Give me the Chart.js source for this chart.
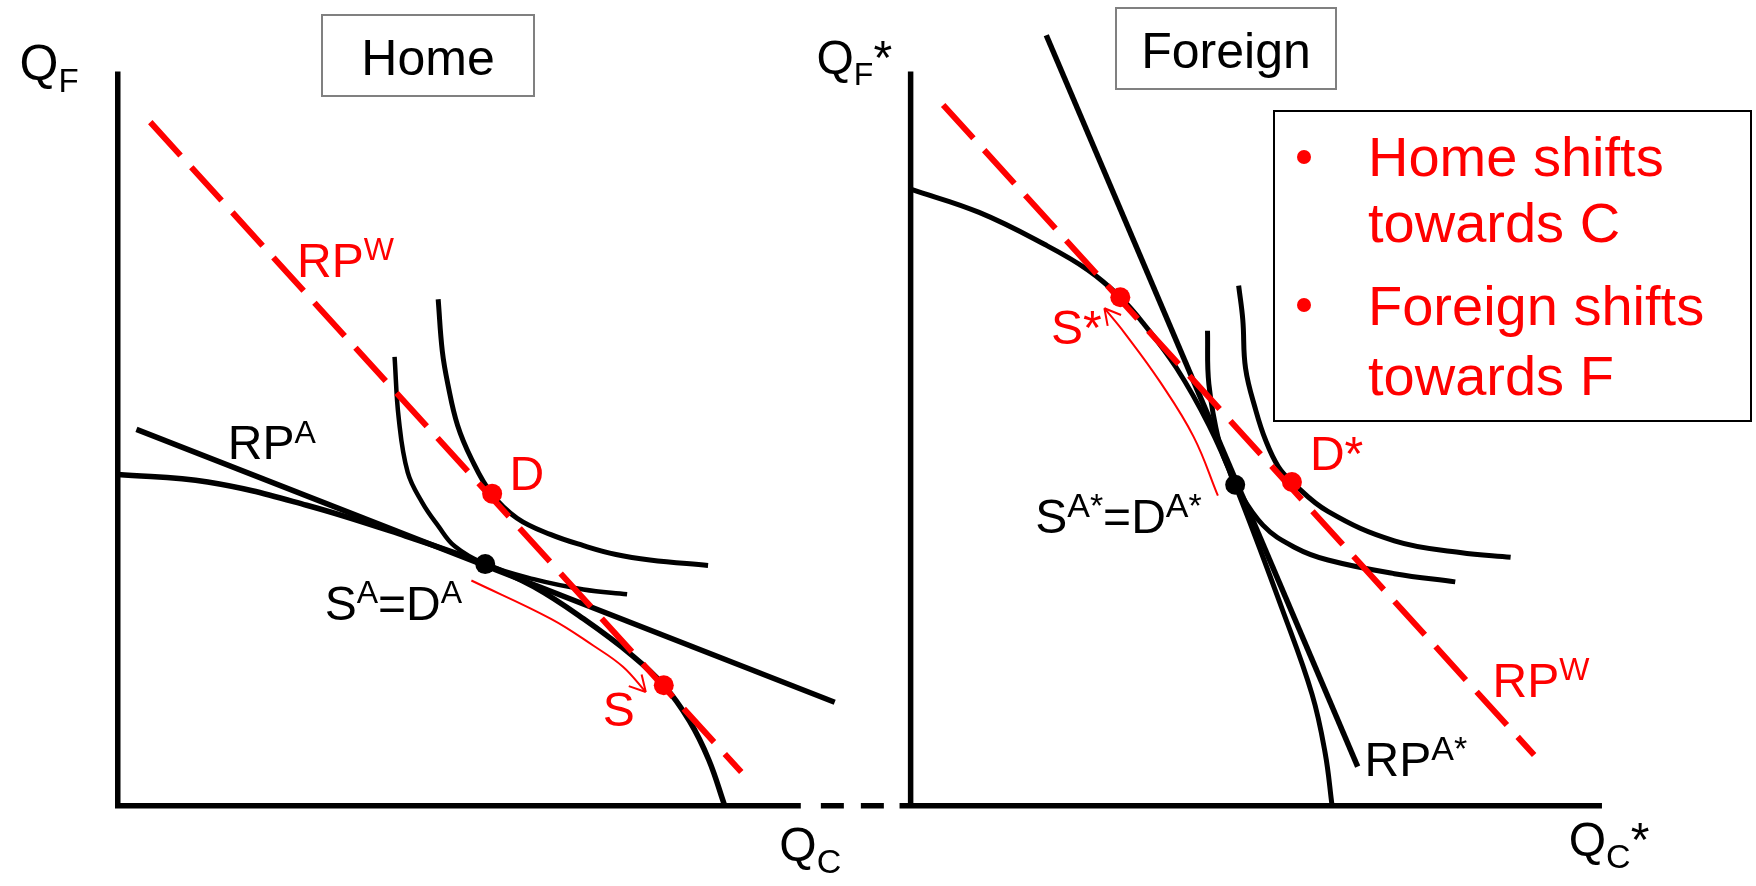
<!DOCTYPE html>
<html>
<head>
<meta charset="utf-8">
<title>Home / Foreign</title>
<script src="https://cdn.jsdelivr.net/npm/chart.js@4/dist/chart.umd.min.js"></script>
<style>
  html, body { margin: 0; padding: 0; background: #fff; }
  #wrap { position: relative; width: 1756px; height: 886px; overflow: hidden;
          font-family: "Liberation Sans", Arial, sans-serif; }
  #wrap canvas { position: absolute; left: 0; top: 0; }
  .title { position: absolute; box-sizing: border-box; border: 2px solid #808080; background: #fff;
           font-size: 50px; line-height: 74px; padding-top: 5px; text-align: center; color: #000; }
  #legend { position: absolute; box-sizing: border-box; left: 1273px; top: 110px; width: 479px; height: 312px;
            border: 2px solid #000; background: #fff; }
  #legend .li { position: absolute; left: 93px; font-size: 56px; line-height: 56px; color: #f00; white-space: nowrap; }
  #legend .bul { position: absolute; left: 22px; width: 14px; height: 14px; border-radius: 50%; background: #f00; }
</style>
</head>
<body>
<div id="wrap">
  <canvas id="home" width="1756" height="886"></canvas>
  <canvas id="foreign" width="1756" height="886"></canvas>
  <div class="title" style="left:321px;top:14px;width:214px;height:83px;">Home</div>
  <div class="title" style="left:1115px;top:7px;width:222px;height:83px;">Foreign</div>
  <div id="legend">
    <div class="bul" style="top:38px;"></div>
    <div class="li" style="top:17px;">Home shifts</div>
    <div class="li" style="top:83px;">towards C</div>
    <div class="bul" style="top:186px;"></div>
    <div class="li" style="top:166px;">Foreign shifts</div>
    <div class="li" style="top:236px;">towards F</div>
  </div>
</div>
<script>
// Values are in the diagram's own units, origin = corner of each panel's axes.

// ---- Home ----
const homeAxes   = [[0, 10.73], [0, 0], [9.87, 0]];
const homeBreak  = [[10.16, 0], [11.3, 0]];
const homePPF    = [[0, 4.84], [1.30, 4.73], [2.73, 4.39], [4.16, 3.94], [5.31, 3.53], [6.01, 3.20],
                    [6.73, 2.73], [7.44, 2.19], [7.89, 1.76], [8.26, 1.24], [8.54, 0.67], [8.77, 0]];
const homeRPA    = [[0.27, 5.50], [10.36, 1.51]];
const homeRPW    = [[0.47, 9.99], [9.01, 0.49]];
const homeIC1    = [[4.00, 6.56], [4.06, 5.66], [4.19, 4.87], [4.40, 4.43], [4.63, 4.09], [4.87, 3.79],
                    [5.31, 3.53], [6.01, 3.31], [6.73, 3.16], [7.36, 3.09]];
const homeIC2    = [[4.63, 7.40], [4.69, 6.64], [4.77, 6.16], [4.91, 5.56], [5.11, 5.07], [5.40, 4.56],
                    [5.77, 4.20], [6.26, 3.96], [6.73, 3.80], [7.20, 3.67], [7.69, 3.59], [8.53, 3.51]];
const homeArrow  = [[5.11, 3.29], [6.26, 2.73], [6.87, 2.34], [7.30, 2.03], [7.63, 1.66]];
const homeAutarky = [[5.31, 3.53]];
const homeTrade   = [[5.41, 4.56], [7.89, 1.76]];   // D, S

// ---- Foreign ----
const foreignYAxis = [[0, 10.73], [0, -0.03]];
const foreignXAxis = [[-0.16, 0], [9.99, 0]];
const foreignPPF   = [[0, 9.01], [0.99, 8.67], [1.94, 8.20], [2.56, 7.83], [3.03, 7.43], [3.37, 7.04],
                      [3.84, 6.40], [4.31, 5.56], [4.69, 4.69], [5.37, 2.87], [5.80, 1.63], [5.99, 0.77], [6.09, 0]];
const foreignRPA   = [[1.96, 11.26], [6.46, 0.57]];
const foreignRPW   = [[0.47, 10.24], [9.01, 0.74]];
const foreignIC1   = [[4.29, 6.94], [4.31, 6.16], [4.46, 5.30], [4.60, 4.91], [4.69, 4.69], [5.09, 4.10],
                      [5.56, 3.77], [6.03, 3.59], [6.99, 3.39], [7.87, 3.27]];
const foreignIC2   = [[4.74, 7.60], [4.80, 7.10], [4.84, 6.39], [4.99, 5.77], [5.13, 5.34], [5.31, 4.96],
                      [5.51, 4.73], [6.03, 4.30], [6.99, 3.87], [7.94, 3.70], [8.67, 3.63]];
const foreignArrow = [[4.44, 4.53], [4.09, 5.39], [3.60, 6.20], [3.09, 6.91], [2.80, 7.27]];
const foreignAutarky = [[4.69, 4.69]];
const foreignTrade   = [[3.03, 7.43], [5.51, 4.73]];  // S*, D*

// Text labels: anchor (left, baseline) in panel units, then [text, size, baseline shift]
const RED = '#ff0000', BLACK = '#000000';
const homeLabels = [
  { x: -1.42, y: 10.61, color: BLACK, parts: [['Q', 50], ['F', 33, 12]] },
  { x: 2.59,  y: 7.73,  color: RED,   parts: [['RP', 48], ['W', 32, -17]] },
  { x: 1.59,  y: 5.07,  color: BLACK, parts: [['RP', 48], ['A', 32, -16]] },
  { x: 5.66,  y: 4.61,  color: RED,   parts: [['D', 48]] },
  { x: 2.99,  y: 2.71,  color: BLACK, parts: [['S', 48], ['A', 32, -17], ['=', 48], ['D', 48], ['A', 32, -17]] },
  { x: 7.01,  y: 1.16,  color: RED,   parts: [['S', 48]] },
  { x: 9.56,  y: -0.81, color: BLACK, parts: [['Q', 48], ['C', 34, 12]] }
];
const foreignLabels = [
  { x: -1.36, y: 10.69, color: BLACK, parts: [['Q', 48], ['F', 32, 11], ['*', 48]] },
  { x: 2.03,  y: 6.74,  color: RED,   parts: [['S*', 48]] },
  { x: 5.77,  y: 4.91,  color: RED,   parts: [['D*', 48]] },
  { x: 1.80,  y: 3.99,  color: BLACK, parts: [['S', 48], ['A*', 34, -16], ['=', 48], ['D', 48], ['A*', 34, -16]] },
  { x: 8.41,  y: 1.59,  color: RED,   parts: [['RP', 48], ['W', 32, -17]] },
  { x: 6.56,  y: 0.44,  color: BLACK, parts: [['RP', 48], ['A*', 34, -16]] },
  { x: 9.51,  y: -0.74, color: BLACK, parts: [['Q', 48], ['C', 34, 12], ['*', 48]] }
];

const W = 1756, H = 886, UNIT = 70, ORIGIN_Y = 814;
const HOME_OX = 109, FOREIGN_OX = 911;
const FONT = '"Liberation Sans", Arial, sans-serif';

const pts = arr => arr.map(([x, y]) => ({ x, y }));

function line(data, extra) {
  return Object.assign({
    data: pts(data), showLine: true, pointRadius: 0, fill: false,
    borderColor: BLACK, borderWidth: 5, tension: 0, borderCapStyle: 'butt'
  }, extra);
}

function dots(data, color) {
  return { data: pts(data), showLine: false, pointRadius: 10, pointBorderWidth: 0,
           pointBackgroundColor: color, borderColor: color };
}

// draws arrowheads for datasets flagged `arrow`, and the rich text labels
function extras(labels) {
  return {
    id: 'extras',
    afterDatasetsDraw(chart) {
      const ctx = chart.ctx;
      chart.data.datasets.forEach((ds, i) => {
        if (!ds.arrow) return;
        const p = chart.getDatasetMeta(i).data;
        const a = p[p.length - 2], b = p[p.length - 1];
        const ang = Math.atan2(b.y - a.y, b.x - a.x);
        ctx.save();
        ctx.strokeStyle = ds.borderColor;
        ctx.lineWidth = ds.borderWidth;
        ctx.beginPath();
        for (const s of [-1, 1]) {
          ctx.moveTo(b.x, b.y);
          ctx.lineTo(b.x - 18 * Math.cos(ang + s * 0.5), b.y - 18 * Math.sin(ang + s * 0.5));
        }
        ctx.stroke();
        ctx.restore();
      });

      const xs = chart.scales.x, ys = chart.scales.y;
      for (const lb of labels) {
        let px = xs.getPixelForValue(lb.x);
        const py = ys.getPixelForValue(lb.y);
        ctx.save();
        ctx.fillStyle = lb.color;
        ctx.textAlign = 'left';
        ctx.textBaseline = 'alphabetic';
        for (const [t, size, dy] of lb.parts) {
          ctx.font = `${size}px ${FONT}`;
          ctx.fillText(t, px, py + (dy || 0));
          px += ctx.measureText(t).width;
        }
        ctx.restore();
      }
    }
  };
}

function options(ox) {
  return {
    responsive: false,
    animation: false,
    events: [],
    layout: { padding: 0 },
    plugins: { legend: { display: false }, tooltip: { enabled: false } },
    scales: {
      x: { type: 'linear', display: false, min: -ox / UNIT, max: (W - ox) / UNIT },
      y: { type: 'linear', display: false, min: -(H - ORIGIN_Y) / UNIT, max: ORIGIN_Y / UNIT }
    }
  };
}

const dashed = { borderColor: RED, borderWidth: 6, borderDash: [45, 16] };
const arrowStyle = { borderColor: RED, borderWidth: 2, tension: 0.4, arrow: true };

new Chart(document.getElementById('home'), {
  type: 'scatter',
  data: {
    datasets: [
      dots(homeAutarky, BLACK),
      dots(homeTrade, RED),
      line(homeArrow, arrowStyle),
      line(homeRPW, dashed),
      line(homeRPA, { borderWidth: 5.5 }),
      line(homeIC1, { tension: 0.4, borderWidth: 4.5 }),
      line(homeIC2, { tension: 0.4, borderWidth: 5 }),
      line(homePPF, { tension: 0.4, borderWidth: 5.5 }),
      line(homeBreak, { borderWidth: 5.5, borderDash: [23, 17] }),
      line(homeAxes, { borderWidth: 5.5, borderJoinStyle: 'miter' })
    ]
  },
  options: options(HOME_OX),
  plugins: [extras(homeLabels)]
});

new Chart(document.getElementById('foreign'), {
  type: 'scatter',
  data: {
    datasets: [
      dots(foreignAutarky, BLACK),
      dots(foreignTrade, RED),
      line(foreignArrow, arrowStyle),
      line(foreignRPW, dashed),
      line(foreignRPA, { borderWidth: 5.5 }),
      line(foreignIC1, { tension: 0.4, borderWidth: 5 }),
      line(foreignIC2, { tension: 0.4, borderWidth: 5 }),
      line(foreignPPF, { tension: 0.4, borderWidth: 5 }),
      line(foreignXAxis, { borderWidth: 5.5 }),
      line(foreignYAxis, { borderWidth: 5.5 })
    ]
  },
  options: options(FOREIGN_OX),
  plugins: [extras(foreignLabels)]
});
</script>
</body>
</html>
